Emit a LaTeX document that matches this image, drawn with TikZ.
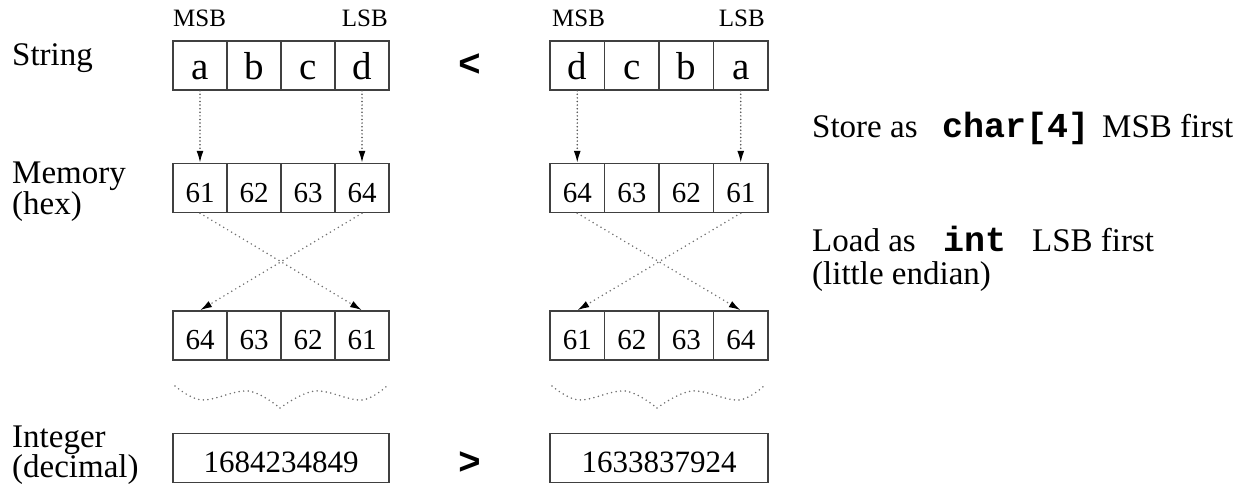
\documentclass[tikz,border=0pt]{standalone}
\usepackage{fontspec}
\setmainfont{Liberation Serif}
\newfontfamily\codefont{Liberation Mono}
\usetikzlibrary{arrows.meta}
\definecolor{boxc}{HTML}{404040}
\definecolor{dotc}{HTML}{707070}
\definecolor{arrc}{HTML}{505050}
\tikzset{
  cell/.style={draw=boxc, line width=1.4pt, minimum width=54.2pt, inner sep=0pt, text height=39pt, text depth=10pt},
  intbox/.style={draw=boxc, line width=1.4pt, minimum width=216pt, inner sep=0pt, text height=39pt, text depth=10pt, font=\fontsize{31}{31}\selectfont},
  lettf/.style={font=\fontsize{39}{39}\selectfont},
  hexf/.style={font=\fontsize{29}{29}\selectfont},
  lbl/.style={anchor=base west, inner sep=0pt, font=\fontsize{33}{33}\selectfont},
  sblbl/.style={inner sep=0pt, font=\fontsize{25}{25}\selectfont},
  codet/.style={anchor=base west, inner sep=0pt, font=\codefont\bfseries\fontsize{35}{35}\selectfont},
  cmpf/.style={inner sep=0pt, font=\codefont\bfseries\fontsize{38}{38}\selectfont},
  dotline/.style={draw=dotc, line width=1.7pt, line cap=round, dash pattern=on 0pt off 4.6pt},
  varrow/.style={draw=arrc, line width=1.7pt, line cap=round, dash pattern=on 0pt off 3.6pt, -{Latex[length=12pt,width=7pt,color=black]}},
  xarrow/.style={draw=dotc, line width=1.7pt, line cap=round, dash pattern=on 0pt off 4.6pt, -{Latex[length=12pt,width=7pt,color=black]}}
}
\begin{document}
\begin{tikzpicture}[x=1pt,y=-1pt]
\useasboundingbox (0,0) rectangle (1243,486);

% row labels
\node[lbl] (lstr) at (12,66) {String};
\node[lbl] (lmem) at (12,184) {Memory};
\node[lbl] (lhex) at (12,215) {(hex)};
\node[lbl] (lint) at (12,447) {Integer};
\node[lbl] (ldec) at (12,477) {(decimal)};

% MSB / LSB
\node[sblbl, anchor=base west] (msbL) at (173,27) {MSB};
\node[sblbl, anchor=base east] (lsbL) at (388,27) {LSB};
\node[sblbl, anchor=base west] (msbR) at (552,27) {MSB};
\node[sblbl, anchor=base east] (lsbR) at (765,27) {LSB};

% left group
\foreach \t [count=\i] in {a,b,c,d}
  \node[cell,lettf] (ls\i) at ({173+54*(\i-0.5)},65.5) {\t};
\foreach \t [count=\i] in {61,62,63,64}
  \node[cell,hexf] (lm\i) at ({173+54*(\i-0.5)},188) {\t};
\foreach \t [count=\i] in {64,63,62,61}
  \node[cell,hexf] (lr\i) at ({173+54*(\i-0.5)},335.5) {\t};
\node[intbox] (lintb) at (281,458) {1684234849};

% right group
\foreach \t [count=\i] in {d,c,b,a}
  \node[cell,lettf] (rs\i) at ({550+54.5*(\i-0.5)},65.5) {\t};
\foreach \t [count=\i] in {64,63,62,61}
  \node[cell,hexf] (rm\i) at ({550+54.5*(\i-0.5)},188) {\t};
\foreach \t [count=\i] in {61,62,63,64}
  \node[cell,hexf] (rr\i) at ({550+54.5*(\i-0.5)},335.5) {\t};
\node[intbox, minimum width=218pt] (rintb) at (659,458) {1633837924};

% comparison signs
\node[cmpf] (lt) at (470,65) {<};
\node[cmpf] (gt) at (470,463) {>};

% arrows
\draw[varrow] (ls1.south) -- (lm1.north);
\draw[varrow] (ls4.south) -- (lm4.north);
\draw[varrow] (rs1.south) -- (rm1.north);
\draw[varrow] (rs4.south) -- (rm4.north);
\draw[xarrow] (lm1.south) -- (lr4.north);
\draw[xarrow] (lm4.south) -- (lr1.north);
\draw[xarrow] (rm1.south) -- (rr4.north);
\draw[xarrow] (rm4.south) -- (rr1.north);

% wavy elisions
\foreach \dx in {0,377} {
  \begin{scope}[xshift=\dx pt]
    \draw[dotline] plot[smooth, tension=0.6] coordinates {(175,386) (202,400) (248,391) (280,408)};
    \draw[dotline] plot[smooth, tension=0.6] coordinates {(280,408) (315,391) (362,400) (389,384)};
  \end{scope}
}

% right-hand texts
\node[lbl] (st1) at (812,138) {Store as};
\node[codet] (st2) at (942,138) {char[4]};
\node[lbl] (st3) at (1102,138) {MSB first};
\node[lbl] (ld1) at (812,252) {Load as};
\node[codet] (ld2) at (943,252) {int};
\node[lbl] (ld3) at (1032,252) {LSB first};
\node[lbl] (ld4) at (812,285) {(little endian)};
\end{tikzpicture}
\end{document}
